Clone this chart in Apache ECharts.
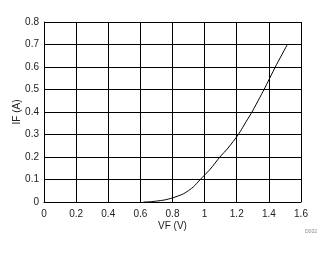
<!DOCTYPE html>
<html><head><meta charset="utf-8">
<script src="https://cdn.jsdelivr.net/npm/echarts@6/dist/echarts.min.js"></script>
<style>html,body{margin:0;padding:0;background:#fff}#c{width:332px;height:254px}</style>
</head><body><div id="c"></div>
<script>
var vf = [0.62, 0.66, 0.70, 0.75, 0.80, 0.87, 0.93, 0.973, 1.035, 1.095, 1.146, 1.21, 1.265, 1.295, 1.37, 1.44, 1.515];
var ifA = [0.000, 0.001, 0.004, 0.009, 0.018, 0.037, 0.067, 0.100, 0.146, 0.200, 0.240, 0.300, 0.365, 0.400, 0.500, 0.600, 0.700];
var xTicks = [0, 0.2, 0.4, 0.6, 0.8, 1, 1.2, 1.4, 1.6];
var yTicks = [0, 0.1, 0.2, 0.3, 0.4, 0.5, 0.6, 0.7, 0.8];
var chart = echarts.init(document.getElementById('c'));
var font = 'Liberation Sans, Arial, sans-serif';
var pts = vf.map(function(v, i){ return [v, ifA[i]]; });
chart.setOption({
  animation: false,
  grid: {left: 44, top: 22, width: 257, height: 180, containLabel: false},
  xAxis: {
    type: 'value', min: 0, max: 1.6, interval: 0.2,
    name: 'VF (V)', nameLocation: 'middle', nameGap: 19, nameMoveOverlap: false,
    nameTextStyle: {color: '#222', fontFamily: font, fontSize: 10},
    axisLine: {show: true, lineStyle: {color: '#000', width: 1}},
    axisTick: {show: false},
    splitLine: {show: true, lineStyle: {color: '#000', width: 1}},
    axisLabel: {color: '#222', fontFamily: font, fontSize: 10, margin: 7,
      formatter: function(v){ return String(parseFloat(v.toFixed(1))); }}
  },
  yAxis: {
    type: 'value', min: 0, max: 0.8, interval: 0.1,
    name: 'IF (A)', nameLocation: 'middle', nameGap: 22, nameRotate: 90, nameMoveOverlap: false,
    nameTextStyle: {color: '#222', fontFamily: font, fontSize: 10},
    axisLine: {show: true, lineStyle: {color: '#000', width: 1}},
    axisTick: {show: false},
    splitLine: {show: true, lineStyle: {color: '#000', width: 1}},
    axisLabel: {color: '#222', fontFamily: font, fontSize: 10, margin: 5,
      formatter: function(v){ return String(parseFloat(v.toFixed(1))); }}
  },
  graphic: [{type: 'text', left: 305, top: 229, style: {text: 'D002', fill: '#888', font: '5px ' + font}}],
  series: [{
    type: 'line', data: pts, showSymbol: false, smooth: 0.2,
    lineStyle: {color: '#000', width: 1}
  }]
});
</script></body></html>
